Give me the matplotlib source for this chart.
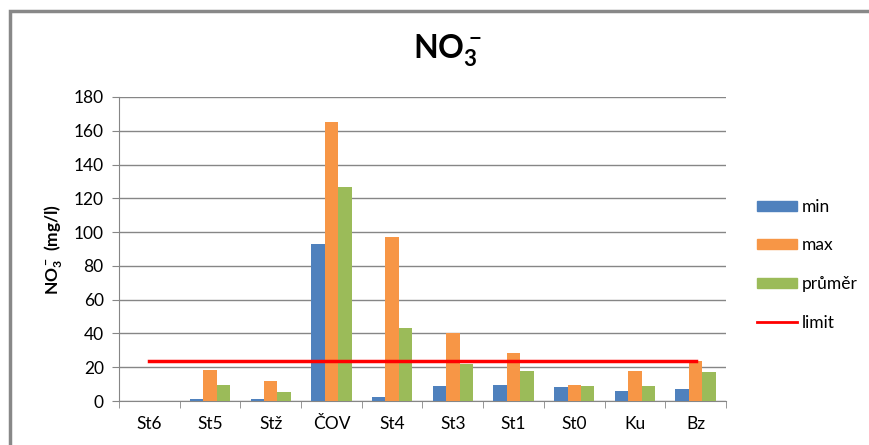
import numpy as np
import matplotlib.pyplot as plt
from matplotlib.patches import Rectangle
from matplotlib.lines import Line2D

plt.rcParams['font.family'] = ['Lato', 'DejaVu Sans']
plt.rcParams['mathtext.fontset'] = 'custom'
plt.rcParams['mathtext.rm'] = 'Lato'
plt.rcParams['mathtext.bf'] = 'Lato:bold'

# odběrová místa a naměřené hodnoty NO3- (mg/l)
mista = ["St6", "St5", "Stž", "ČOV", "St4", "St3", "St1", "St0", "Ku", "Bz"]
nmin = [0, 1, 1.2, 93, 2.5, 9, 9.5, 8.3, 6, 7.2]
nmax = [0, 18.6, 12, 165, 97, 40, 28.5, 9.5, 18, 23.5]
prumer = [0, 9.5, 5.5, 127, 43, 22, 17.5, 9, 9, 17]
limit = 23.9

c_min, c_max, c_avg = "#4F81BD", "#F79646", "#9BBB59"
osa = "#868686"

fig = plt.figure(figsize=(8.7, 4.45), dpi=100)
ax = fig.add_axes([119/870, 44/445, 607/870, 304/445])

x = np.arange(len(mista))
w = 1/4.5
ax.bar(x - w, nmin, w, color=c_min, label="min", zorder=3)
ax.bar(x, nmax, w, color=c_max, label="max", zorder=3)
ax.bar(x + w, prumer, w, color=c_avg, label="průměr", zorder=3)
ax.plot(x, [limit]*len(x), color="#FF0000", lw=2.5, label="limit", zorder=4)

ax.set_xlim(-0.5, len(mista) - 0.5)
ax.set_ylim(0, 180)
ax.set_yticks(range(0, 181, 20))
ax.yaxis.grid(True, color=osa, lw=1, zorder=0)
ax.set_xticks(x)
ax.set_xticklabels(mista, fontsize=12.5)
ax.set_xticks(np.arange(-0.5, len(mista)), minor=True)
ax.tick_params(axis="x", which="major", length=0, pad=11)
ax.tick_params(axis="x", which="minor", length=5, color=osa)
ax.tick_params(axis="y", length=5, color=osa, labelsize=12.5, pad=6)
for s in ["top", "right"]:
    ax.spines[s].set_visible(False)
for s in ["left", "bottom"]:
    ax.spines[s].set_color(osa)

ax.set_ylabel(r"$\mathbf{NO_3^-}$ (mg/l)", fontsize=12.5, fontweight="bold", labelpad=6)
fig.text(0.514, 0.885, r"$\mathbf{NO_3^-}$", fontsize=23, ha="center", va="center")

h = [Rectangle((0, 0), 1, 1, color=c) for c in (c_min, c_max, c_avg)]
h.append(Line2D([0], [0], color="#FF0000", lw=2))
fig.legend(h, ["min", "max", "průměr", "limit"], loc="center left",
           bbox_to_anchor=(757/870, 0.405), frameon=False, fontsize=12.5,
           borderpad=0, borderaxespad=0,
           handlelength=2.3, handleheight=0.5, labelspacing=1.3, handletextpad=0.3)

# rámeček grafu
fig.patches.append(Rectangle((10/870, -0.1), 1.2, (445-11)/445 + 0.1,
                             transform=fig.transFigure, fill=False,
                             edgecolor="#888888", lw=2.5))

fig.savefig("out.png", dpi=100)
